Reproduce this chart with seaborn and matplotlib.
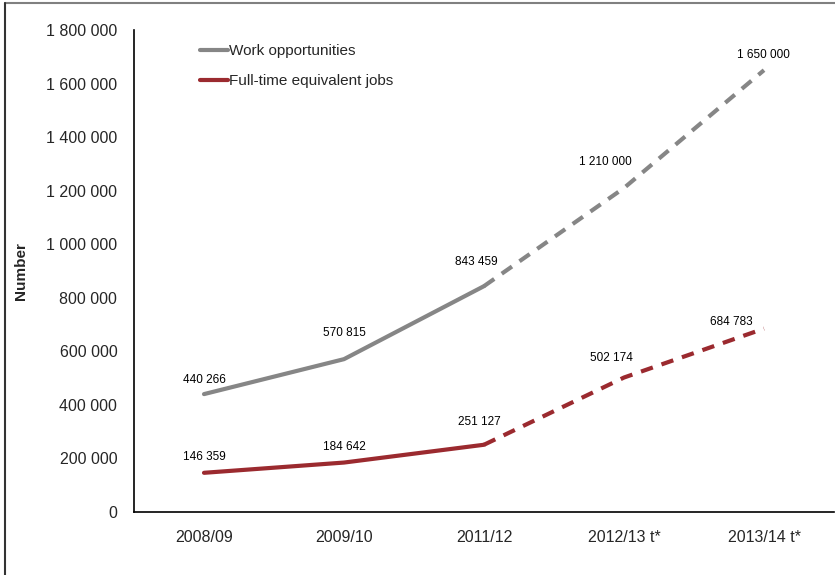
import pandas as pd
import numpy as np
import matplotlib
matplotlib.use("Agg")
import matplotlib.pyplot as plt
from matplotlib.lines import Line2D
import seaborn as sns

years = ["2008/09", "2009/10", "2011/12", "2012/13 t*", "2013/14 t*"]
work_opps = [440266, 570815, 843459, 1210000, 1650000]
fte_jobs = [146359, 184642, 251127, 502174, 684783]
n_actual = 3  # first three years are actual, the rest are targets

sns.set_style("white")
plt.rcParams["font.family"] = ["Liberation Sans", "DejaVu Sans"]

fig = plt.figure(figsize=(8.35, 5.75), dpi=100)
ax = fig.add_axes([134 / 835, 1 - 512 / 575, 700 / 835, 482 / 575])

pos = np.arange(len(years))
series = [
    ("Work opportunities", work_opps, "#868686",
     [(0, 14), (0, 26), (-8, 24), (-19, 26), (-1, 15)]),
    ("Full-time equivalent jobs", fte_jobs, "#9b2a2f",
     [(0, 16), (0, 16), (-5, 23), (-13, 20), (-33, 7)]),
]

for name, vals, col, offs in series:
    df = pd.DataFrame({"x": pos, "y": vals})
    sns.lineplot(data=df.iloc[:n_actual], x="x", y="y", color=col, lw=3,
                 ax=ax, label=name)
    sns.lineplot(data=df.iloc[n_actual - 1:], x="x", y="y", color=col, lw=3,
                 ax=ax, linestyle=(0, (3, 2.2)))
    for xi, v, (dx, dy) in zip(pos, vals, offs):
        txt = f"{v:,}".replace(",", " ")
        ax.annotate(txt, (xi, v), xytext=(dx * 0.72, dy * 0.72),
                    textcoords="offset points", ha="center", va="center",
                    fontsize=8.5, color="black")

ax.set_xlim(-0.5, len(years) - 0.5)
ax.set_ylim(0, 1800000)
ax.set_xticks(pos)
ax.set_xticklabels(years, fontsize=11.5)
yt = np.arange(0, 1800001, 200000)
ax.set_yticks(yt)
ax.set_yticklabels([f"{t:,}".replace(",", " ") for t in yt], fontsize=11.5)
ax.tick_params(length=0)
ax.tick_params(axis="y", pad=12)
ax.tick_params(axis="x", pad=13)
ax.set_xlabel("")
ax.set_ylabel("Number", fontsize=11, fontweight="bold", labelpad=13)

for s in ["top", "right"]:
    ax.spines[s].set_visible(False)
for s in ["left", "bottom"]:
    ax.spines[s].set_color("black")
    ax.spines[s].set_linewidth(1.2)

handles = [Line2D([], [], color=c, lw=3) for _, _, c, _ in series]
ax.legend(handles, [n for n, _, _, _ in series], loc="upper left",
          bbox_to_anchor=(200 / 835, 1 - 44 / 575), bbox_transform=fig.transFigure,
          frameon=False, fontsize=11, handlelength=1.8, handletextpad=0.1,
          labelspacing=1.05, borderpad=0, borderaxespad=0)

# outer frame (only top and left edges are visible in the crop)
fig.add_artist(Line2D([5 / 835, 1], [1 - 3 / 575, 1 - 3 / 575],
                      transform=fig.transFigure, color="#808080", lw=1.5))
fig.add_artist(Line2D([5 / 835, 5 / 835], [0, 1 - 3 / 575],
                      transform=fig.transFigure, color="#333333", lw=1.5))

fig.savefig("out.png", dpi=100)
